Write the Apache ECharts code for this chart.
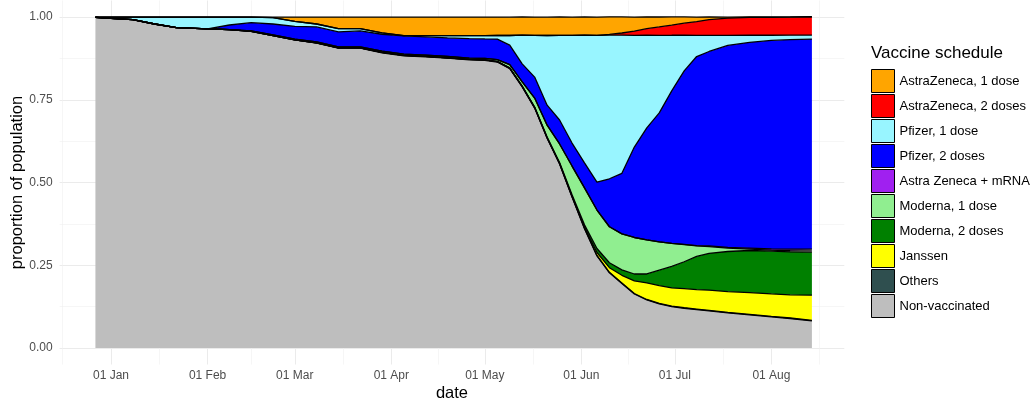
<!DOCTYPE html>
<html>
<head>
<meta charset="utf-8">
<script src="https://cdn.jsdelivr.net/npm/echarts@6.0.0/dist/echarts.min.js"></script>
<style>html,body{margin:0;padding:0;background:#fff}#chart{width:1031px;height:401px}</style>
</head>
<body>
<div id="chart"></div>
<script>
// ---------------- data ----------------
const dates = ['2020-12-27','2021-01-01','2021-01-08','2021-01-15','2021-01-22','2021-02-01','2021-02-08','2021-02-15','2021-02-22','2021-03-01',
  '2021-03-08','2021-03-15','2021-03-22','2021-03-29','2021-04-05','2021-04-12','2021-04-19','2021-04-26','2021-05-01','2021-05-05',
  '2021-05-09','2021-05-13','2021-05-17','2021-05-21','2021-05-25','2021-05-29','2021-06-02','2021-06-06','2021-06-10','2021-06-14',
  '2021-06-18','2021-06-22','2021-06-26','2021-06-30','2021-07-04','2021-07-08','2021-07-12','2021-07-18','2021-07-25','2021-08-01',
  '2021-08-07','2021-08-14'];

const nonVaccinated = [0.999,0.996,0.992,0.979,0.968,0.964,0.962,0.957,0.944,0.931,
  0.921,0.906,0.906,0.892,0.883,0.880,0.876,0.871,0.869,0.864,
  0.844,0.789,0.725,0.634,0.556,0.456,0.360,0.278,0.227,0.195,
  0.163,0.145,0.133,0.125,0.120,0.116,0.112,0.106,0.100,0.094,
  0.089,0.082];
const others = [0,0,0,0,0,0,0,0,0,0,
  0.001,0.001,0.001,0.001,0.001,0.001,0.001,0.001,0.0015,0.0015,
  0.0015,0.0015,0.0015,0.0015,0.0015,0.0015,0.0015,0.0015,0.0015,0.0015,
  0.0015,0.0015,0.0015,0.0015,0.0015,0.0015,0.0015,0.0015,0.0015,0.0015,
  0.0015,0.0015];
const janssen = [0,0,0,0,0,0,0,0,0,0,
  0,0,0,0,0,0,0,0,0,0,
  0,0,0,0,0,0.001,0.003,0.009,0.014,0.023,
  0.038,0.050,0.054,0.055,0.058,0.059,0.061,0.063,0.066,0.068,
  0.070,0.076];
const moderna2 = [0,0,0,0,0,0,0,0,0,0,
  0,0,0,0,0,0,0,0,0.0005,0.0006,
  0.0009,0.0009,0.0015,0.0021,0.003,0.0045,0.0076,0.012,0.015,0.0166,
  0.021,0.027,0.0465,0.065,0.081,0.100,0.1115,0.121,0.127,0.129,
  0.130,0.130];
const moderna1 = [0,0,0,0,0,0,0,0.001,0.002,0.002,
  0.003,0.003,0.003,0.004,0.004,0.004,0.004,0.004,0.004,0.0054,
  0.0097,0.0127,0.0272,0.0356,0.0559,0.0867,0.1118,0.1163,0.1088,0.1088,
  0.1103,0.1033,0.0855,0.0695,0.052,0.0317,0.0205,0.010,0.0042,0.003,
  0.0033,0.0036];
const astraMrna = [0,0,0,0,0,0,0,0,0,0,
  0,0,0,0,0,0,0,0,0,0,
  0,0,0,0,0,0,0,0,0,0,
  0,0,0,0,0.0006,0.0012,0.0018,0.0024,0.003,0.0039,
  0.0048,0.0054];
const pfizer2 = [0,0,0,0,0,0,0.014,0.025,0.033,0.039,
  0.045,0.045,0.048,0.051,0.055,0.055,0.056,0.059,0.059,0.0619,
  0.0589,0.0544,0.0634,0.0604,0.0725,0.0695,0.0755,0.0846,0.145,0.1828,
  0.2734,0.3384,0.3897,0.4607,0.5242,0.5713,0.5876,0.6103,0.6218,0.6299,
  0.6329,0.635];
const pfizer1 = [0.001,0.004,0.008,0.021,0.032,0.036,0.024,0.017,0.019,0.015,
  0.009,0.010,0.007,0.004,0.001,0.004,0.007,0.009,0.010,0.0112,
  0.0293,0.0867,0.126,0.2106,0.2559,0.3254,0.3858,0.4432,0.4341,0.4175,
  0.3375,0.2801,0.2347,0.1683,0.1079,0.064,0.0489,0.0305,0.0218,0.0157,
  0.0136,0.0121];
const astra2 = [0,0,0,0,0,0,0,0,0,0,
  0,0,0,0,0,0,0,0,0,0,
  0,0,0,0,0,0,0,0,0.0024,0.0066,
  0.013,0.0196,0.0251,0.0305,0.0363,0.0417,0.0477,0.0523,0.0535,0.0541,
  0.0544,0.0547];
const astra1 = [0,0,0,0,0,0,0,0,0.002,0.013,
  0.021,0.035,0.035,0.048,0.056,0.056,0.056,0.056,0.056,0.0553,
  0.0553,0.0553,0.0553,0.0553,0.0553,0.0553,0.0553,0.0553,0.0529,0.0487,
  0.0423,0.0357,0.0302,0.0248,0.019,0.0136,0.0076,0.003,0.0018,0.0012,
  0.0009,0.0006];

const tickDates = ['2021-01-01','2021-02-01','2021-03-01','2021-04-01','2021-05-01','2021-06-01','2021-07-01','2021-08-01'];
const tickLabels = ['01 Jan','01 Feb','01 Mar','01 Apr','01 May','01 Jun','01 Jul','01 Aug'];
const yTicks = [0, 0.25, 0.5, 0.75, 1];
const yMinorTicks = [0.125, 0.375, 0.625, 0.875];

// ---------------- styling ----------------
const FONT = "'Liberation Sans', Arial, Helvetica, sans-serif";
const layers = [ // bottom to top
  {name: 'Non-vaccinated', values: nonVaccinated, fill: '#BEBEBE'},
  {name: 'Others', values: others, fill: '#2F4F4F'},
  {name: 'Janssen', values: janssen, fill: '#FFFF00'},
  {name: 'Moderna, 2 doses', values: moderna2, fill: '#008000'},
  {name: 'Moderna, 1 dose', values: moderna1, fill: '#90EE90'},
  {name: 'Astra Zeneca + mRNA', values: astraMrna, fill: '#A020F0'},
  {name: 'Pfizer, 2 doses', values: pfizer2, fill: '#0000FF'},
  {name: 'Pfizer, 1 dose', values: pfizer1, fill: '#98F5FF'},
  {name: 'AstraZeneca, 2 doses', values: astra2, fill: '#FF0000'},
  {name: 'AstraZeneca, 1 dose', values: astra1, fill: '#FFA500'}
];

const DAY = 86400000;
const ORIGIN = Date.UTC(2021, 0, 1);
const toTime = s => Date.UTC(+s.slice(0,4), +s.slice(5,7) - 1, +s.slice(8,10));
const dayOf = s => Math.round((toTime(s) - ORIGIN) / DAY);
const dateTimes = dates.map(toTime);
const tickDays = tickDates.map(dayOf);
const xMinDay = -16.5;
const xMaxDay = 235.4;
const xMinTime = ORIGIN + xMinDay * DAY;
const xMaxTime = ORIGIN + xMaxDay * DAY;
const monthEdges = [dayOf('2020-12-01')].concat(tickDays, [dayOf('2021-09-01')]);
const xMinorTicks = [];
for (let i = 0; i < monthEdges.length - 1; i++) xMinorTicks.push((monthEdges[i] + monthEdges[i + 1]) / 2);

function labelFor(v) {
  let best = 0;
  for (let i = 1; i < tickDays.length; i++) if (Math.abs(tickDays[i] - v) < Math.abs(tickDays[best] - v)) best = i;
  return tickLabels[best];
}

const series = layers.map(l => ({
  name: l.name,
  type: 'line',
  stack: 'total',
  xAxisIndex: 0,
  yAxisIndex: 0,
  symbol: 'none',
  showSymbol: false,
  smooth: false,
  silent: true,
  data: dateTimes.map((t, i) => [t, l.values[i]]),
  lineStyle: {color: '#000000', width: 1.3},
  areaStyle: {color: l.fill, opacity: 1},
  itemStyle: {color: l.fill},
  emphasis: {disabled: true}
}));

const legendOrder = layers.slice().reverse();
const hidden = {axisLine: {show: false}, axisTick: {show: false}, axisLabel: {show: false}, splitLine: {show: false}};

const chart = echarts.init(document.getElementById('chart'), null, {renderer: 'canvas'});
chart.setOption({
  animation: false,
  backgroundColor: '#ffffff',
  textStyle: {fontFamily: FONT},
  title: {
    text: 'Vaccine schedule', left: 871, top: 45, padding: 0,
    textStyle: {fontSize: 17, fontWeight: 'normal', color: '#000000', fontFamily: FONT}
  },
  legend: {
    orient: 'vertical', left: 871, top: 69, padding: 0,
    icon: 'rect', itemWidth: 23, itemHeight: 23, itemGap: 1.0,
    selectedMode: false,
    textStyle: {fontSize: 13, color: '#000000', fontFamily: FONT},
    data: legendOrder.map(l => ({name: l.name, icon: 'rect', itemStyle: {color: l.fill, borderColor: '#000000', borderWidth: 1}}))
  },
  grid: {left: 59.6, right: 186.7, top: 0.5, bottom: 36.5, containLabel: false, outerBoundsMode: 'none'},
  xAxis: [
    Object.assign({type: 'time', min: xMinTime, max: xMaxTime, position: 'bottom'}, hidden),
    {
      type: 'value', min: xMinDay, max: xMaxDay, position: 'bottom',
      axisLine: {show: false},
      axisTick: {show: false, customValues: tickDays},
      axisLabel: {customValues: tickDays, formatter: v => labelFor(v), color: '#4D4D4D', fontSize: 12, margin: 5, fontFamily: FONT},
      splitLine: {show: true, lineStyle: {color: '#EBEBEB', width: 1}},
      name: 'date', nameLocation: 'middle', nameGap: 20, nameMoveOverlap: false,
      nameTextStyle: {fontSize: 16.5, color: '#000000', fontFamily: FONT}
    }, {
      type: 'value', min: xMinDay, max: xMaxDay, position: 'bottom',
      axisLine: {show: false},
      axisTick: {show: false, customValues: xMinorTicks},
      axisLabel: {show: false, customValues: xMinorTicks},
      splitLine: {show: true, lineStyle: {color: '#F0F0F0', width: 0.6}}
    }
  ],
  yAxis: [{
    type: 'value', min: -0.05, max: 1.05,
    axisLine: {show: false},
    axisTick: {show: false, customValues: yTicks},
    axisLabel: {customValues: yTicks, formatter: v => Number(v).toFixed(2), color: '#4D4D4D', fontSize: 12, margin: 7, fontFamily: FONT},
    splitLine: {show: true, lineStyle: {color: '#EBEBEB', width: 1}},
    name: 'proportion of population', nameLocation: 'middle', nameGap: 34, nameRotate: 90, nameMoveOverlap: false,
    nameTextStyle: {fontSize: 16.5, color: '#000000', fontFamily: FONT}
  }, {
    type: 'value', min: -0.05, max: 1.05, position: 'left',
    axisLine: {show: false},
    axisTick: {show: false, customValues: yMinorTicks},
    axisLabel: {show: false, customValues: yMinorTicks},
    splitLine: {show: true, lineStyle: {color: '#F0F0F0', width: 0.6}}
  }],
  series: series
});
</script>
</body>
</html>
